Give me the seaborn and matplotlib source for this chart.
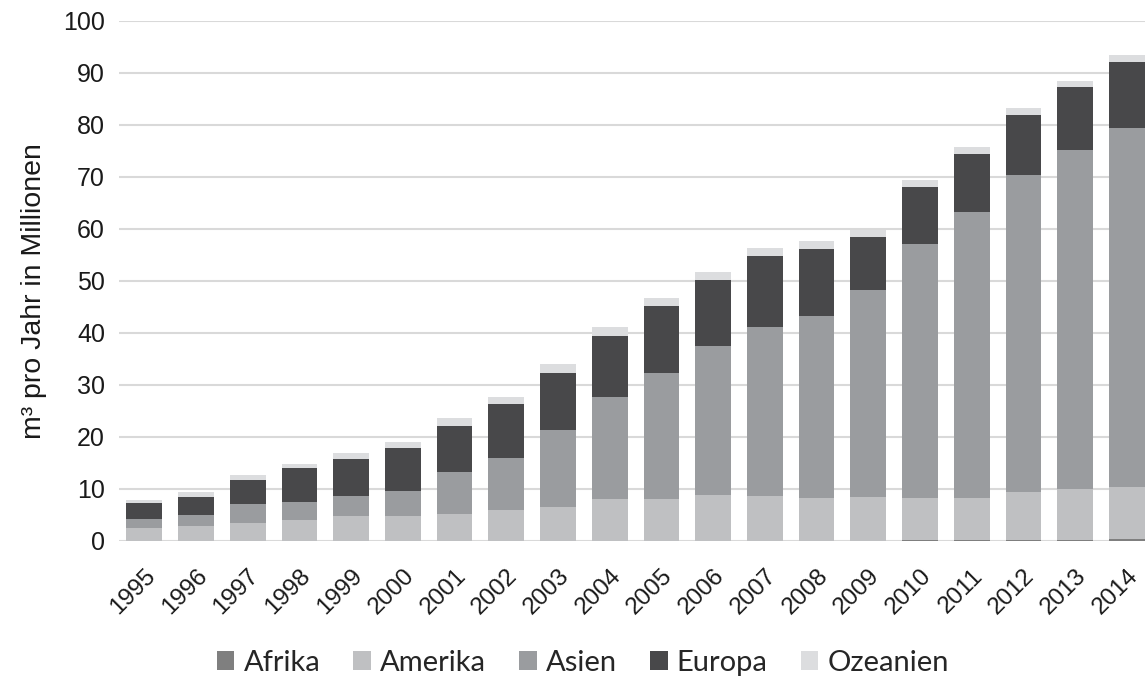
import numpy as np
import pandas as pd
import matplotlib
matplotlib.use("Agg")
import matplotlib.pyplot as plt
from matplotlib.patches import Patch
import seaborn as sns

# Annual volumes by continent (million m³ per year)
years = [str(y) for y in range(1995, 2015)]
afrika = [0, 0, 0, 0, 0, 0, 0, 0, 0, 0, 0, 0, 0, 0, 0.05, 0.1, 0.15, 0.2, 0.25, 0.3]
amerika = [2.5, 2.9, 3.5, 4.0, 4.8, 4.9, 5.2, 6.0, 6.6, 8.0, 8.1, 8.8, 8.6, 8.3, 8.45, 8.1, 8.15, 9.2, 9.75, 10.1]
asien = [1.7, 2.1, 3.6, 3.5, 3.8, 4.7, 8.0, 10.0, 14.7, 19.7, 24.3, 28.7, 32.5, 34.9, 39.8, 49.0, 55.0, 61.0, 65.2, 69.0]
europa = [3.2, 3.5, 4.6, 6.5, 7.2, 8.2, 9.0, 10.3, 11.0, 11.8, 12.7, 12.6, 13.8, 13.0, 10.2, 10.9, 11.2, 11.6, 12.1, 12.8]
ozeanien = [0.5, 0.9, 0.9, 0.9, 1.1, 1.2, 1.45, 1.45, 1.7, 1.7, 1.6, 1.7, 1.5, 1.4, 1.3, 1.3, 1.3, 1.2, 1.2, 1.3]

series_names = ["Afrika", "Amerika", "Asien", "Europa", "Ozeanien"]
series_values = [afrika, amerika, asien, europa, ozeanien]
colors = ["#7f7f7f", "#bfc0c2", "#9a9c9f", "#48484a", "#dcdddf"]

sns.set_theme(style="white")
plt.rcParams["font.family"] = ["Liberation Sans", "DejaVu Sans"]

fig = plt.figure(figsize=(11.45, 6.78), dpi=100)
ax = fig.add_axes([119 / 1145, 1 - 541 / 678, (1145 - 119) / 1145, 520 / 678])

bottom = np.zeros(len(years))
for name, vals, col in zip(series_names, series_values, colors):
    df = pd.DataFrame({"Jahr": years, "Wert": vals})
    sns.barplot(data=df, x="Jahr", y="Wert", order=years, color=col,
                bottom=bottom, width=0.69, ax=ax, saturation=1,
                edgecolor="none", linewidth=0, zorder=3)
    bottom = bottom + np.array(vals)

ax.set_ylim(0, 100)
ax.set_xlim(-0.49, 19.35)
ax.set_yticks(np.arange(0, 101, 10))
ax.yaxis.grid(True, color="#d9d9d9", linewidth=1.5, zorder=0)
ax.xaxis.grid(False)
for s in ax.spines.values():
    s.set_visible(False)

ax.tick_params(axis="y", labelsize=18, length=0, pad=10, colors="#1a1a1a")
ax.tick_params(axis="x", labelsize=17.5, length=0, pad=17, colors="#1a1a1a")
for lbl in ax.get_xticklabels():
    lbl.set_rotation(45)
    lbl.set_ha("right")
    lbl.set_rotation_mode("anchor")

ax.set_xlabel("")
ax.set_ylabel("m³ pro Jahr in Millionen", fontsize=20.5, color="#1a1a1a")
ax.yaxis.set_label_coords(-0.070, 0.48)

handles = [Patch(facecolor=c, edgecolor="none") for c in colors]
fig.legend(handles, series_names, loc="center", bbox_to_anchor=(0.509, 1 - 663 / 678),
           ncol=5, frameon=False, handlelength=0.61, handleheight=0.61,
           handletextpad=0.31, columnspacing=1.13,
           prop={"family": ["Lato", "DejaVu Sans"], "size": 21})

fig.savefig("out.png", dpi=100)
